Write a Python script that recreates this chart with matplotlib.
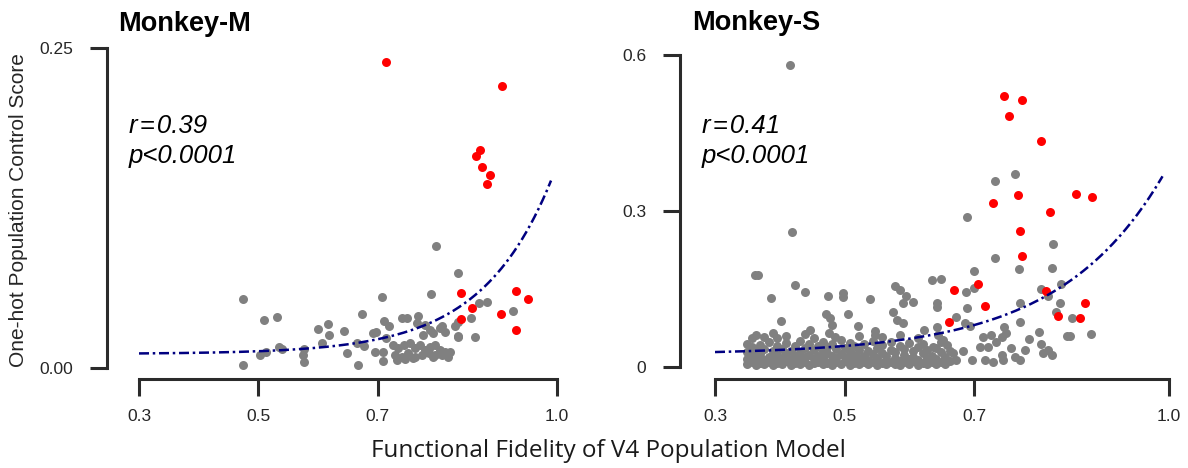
import numpy as np
import matplotlib
matplotlib.use("Agg")
import matplotlib.pyplot as plt

plt.rcParams["font.family"] = ["Liberation Sans", "DejaVu Sans"]

# ---- Monkey-M data (x = fidelity, y = control score) ----
m_gray = np.array([
    (0.797, 0.0956), (0.834, 0.0745), (0.789, 0.0578), (0.707, 0.0557), (0.475, 0.0537),
    (0.510, 0.0375), (0.531, 0.0396), (0.674, 0.0422), (0.870, 0.0505), (0.882, 0.0513),
    (0.926, 0.0448), (0.856, 0.0388), (0.834, 0.0250), (0.862, 0.0242), (0.834, 0.0362),
    (0.829, 0.0328), (0.600, 0.0305), (0.616, 0.0344), (0.619, 0.0260), (0.643, 0.0289),
    (0.740, 0.0388), (0.749, 0.0388), (0.767, 0.0406), (0.711, 0.0367), (0.718, 0.0330),
    (0.692, 0.0271), (0.697, 0.0284), (0.607, 0.0198), (0.535, 0.0167), (0.539, 0.0146),
    (0.502, 0.0104), (0.512, 0.0125), (0.475, 0.0026), (0.576, 0.0146), (0.574, 0.0102),
    (0.576, 0.0047), (0.649, 0.0120), (0.666, 0.0023), (0.665, 0.0193), (0.676, 0.0172),
    (0.696, 0.0128), (0.709, 0.0128), (0.709, 0.0057), (0.714, 0.0232),
    (0.726, 0.0180), (0.734, 0.0154), (0.743, 0.0180), (0.754, 0.0193), (0.762, 0.0154),
    (0.771, 0.0180), (0.779, 0.0141), (0.787, 0.0167), (0.796, 0.0180), (0.804, 0.0141),
    (0.813, 0.0128), (0.821, 0.0128), (0.729, 0.0102), (0.740, 0.0089), (0.751, 0.0115),
    (0.762, 0.0089), (0.774, 0.0102), (0.785, 0.0115), (0.796, 0.0102), (0.807, 0.0102),
    (0.818, 0.0089), (0.732, 0.0063), (0.746, 0.0068), (0.759, 0.0076), (0.782, 0.0128),
    (0.793, 0.0089), (0.779, 0.0336), (0.787, 0.0297), (0.776, 0.0258), (0.793, 0.0271),
    (0.807, 0.0328), (0.813, 0.0284), (0.765, 0.0354), (0.804, 0.0310), (0.835, 0.0245),
])
m_red = np.array([
    (0.714, 0.239), (0.908, 0.220), (0.864, 0.166), (0.871, 0.170), (0.874, 0.157),
    (0.888, 0.151), (0.883, 0.144), (0.839, 0.0589), (0.857, 0.0466), (0.840, 0.0380),
    (0.931, 0.0600), (0.952, 0.0540), (0.906, 0.0420), (0.932, 0.0294),
])
m_fit = (0.011, 3.0e-5, 8.5)   # a + b*exp(c*x)

# ---- Monkey-S data ----
s_gray_sparse = np.array([
    (0.416, 0.581), (0.418, 0.260), (0.762, 0.372), (0.731, 0.358), (0.689, 0.289),
    (0.821, 0.236), (0.731, 0.210), (0.769, 0.189), (0.819, 0.191), (0.699, 0.184),
    (0.361, 0.176), (0.367, 0.176), (0.424, 0.158), (0.438, 0.144), (0.386, 0.132),
    (0.474, 0.136), (0.498, 0.142), (0.497, 0.134), (0.539, 0.130), (0.577, 0.156),
    (0.585, 0.149), (0.594, 0.137), (0.605, 0.125), (0.590, 0.123), (0.635, 0.167),
    (0.648, 0.169), (0.642, 0.123), (0.643, 0.116), (0.687, 0.144), (0.700, 0.151),
    (0.688, 0.113), (0.803, 0.150), (0.813, 0.137), (0.834, 0.159), (0.832, 0.123),
    (0.825, 0.106), (0.770, 0.124), (0.850, 0.095), (0.771, 0.086), (0.880, 0.063),
    (0.842, 0.059), (0.847, 0.059), (0.800, 0.067), (0.784, 0.054), (0.803, 0.044),
    (0.814, 0.033), (0.819, 0.023), (0.671, 0.096), (0.686, 0.085), (0.693, 0.078),
    (0.745, 0.076), (0.749, 0.065), (0.574, 0.106), (0.505, 0.101), (0.471, 0.102),
    (0.477, 0.095), (0.480, 0.081), (0.401, 0.089), (0.521, 0.079), (0.581, 0.090),
    (0.590, 0.085), (0.547, 0.069), (0.547, 0.062), (0.643, 0.076), (0.439, 0.063),
    (0.446, 0.071), (0.476, 0.065), (0.485, 0.058), (0.622, 0.071),
    (0.696, 0.014), (0.716, 0.014), (0.729, 0.010), (0.742, 0.023), (0.757, 0.036),
    (0.762, 0.020), (0.778, 0.033), (0.806, 0.026), (0.713, 0.058), (0.726, 0.062),
    (0.734, 0.049), (0.742, 0.058), (0.721, 0.039), (0.708, 0.039), (0.683, 0.030),
    (0.667, 0.026), (0.657, 0.042), (0.652, 0.052), (0.644, 0.062), (0.636, 0.039),
    (0.634, 0.020), (0.654, 0.014), (0.672, 0.014), (0.744, 0.014), (0.770, 0.014),
])
s_gray_band = np.array([
    (0.350, 0.006), (0.350, 0.015), (0.350, 0.028), (0.350, 0.045),
    (0.357, 0.010), (0.357, 0.022), (0.357, 0.038), (0.357, 0.055),
    (0.363, 0.004), (0.363, 0.018), (0.363, 0.032), (0.363, 0.062),
    (0.370, 0.008), (0.370, 0.025), (0.370, 0.042),
    (0.376, 0.005), (0.376, 0.014), (0.376, 0.035), (0.376, 0.058),
    (0.383, 0.010), (0.383, 0.020), (0.383, 0.048),
    (0.390, 0.004), (0.390, 0.016), (0.390, 0.030), (0.390, 0.066),
    (0.396, 0.008), (0.396, 0.024), (0.396, 0.040), (0.396, 0.055),
    (0.403, 0.006), (0.403, 0.018), (0.403, 0.034),
    (0.410, 0.011), (0.410, 0.027), (0.410, 0.046), (0.410, 0.060),
    (0.417, 0.004), (0.417, 0.015), (0.417, 0.031),
    (0.424, 0.008), (0.424, 0.022), (0.424, 0.040),
    (0.431, 0.005), (0.431, 0.013), (0.431, 0.028), (0.431, 0.050),
    (0.438, 0.009), (0.438, 0.019), (0.438, 0.036),
    (0.445, 0.004), (0.445, 0.024), (0.445, 0.044),
    (0.452, 0.007), (0.452, 0.015), (0.452, 0.032), (0.452, 0.055),
    (0.459, 0.010), (0.459, 0.021), (0.459, 0.040),
    (0.466, 0.005), (0.466, 0.017), (0.466, 0.030), (0.466, 0.048),
    (0.473, 0.008), (0.473, 0.026), (0.473, 0.038),
    (0.480, 0.004), (0.480, 0.013), (0.480, 0.022), (0.480, 0.045),
    (0.487, 0.009), (0.487, 0.018), (0.487, 0.034),
    (0.494, 0.006), (0.494, 0.025), (0.494, 0.052),
    (0.501, 0.011), (0.501, 0.020), (0.501, 0.036),
    (0.508, 0.004), (0.508, 0.015), (0.508, 0.028), (0.508, 0.046),
    (0.515, 0.008), (0.515, 0.023), (0.515, 0.040),
    (0.522, 0.005), (0.522, 0.017), (0.522, 0.032), (0.522, 0.060),
    (0.529, 0.010), (0.529, 0.021), (0.529, 0.044),
    (0.536, 0.006), (0.536, 0.014), (0.536, 0.030),
    (0.543, 0.009), (0.543, 0.025), (0.543, 0.050),
    (0.550, 0.004), (0.550, 0.018), (0.550, 0.036),
    (0.557, 0.008), (0.557, 0.027), (0.557, 0.042), (0.557, 0.057),
    (0.564, 0.005), (0.564, 0.013), (0.564, 0.022),
    (0.571, 0.010), (0.571, 0.032), (0.571, 0.048),
    (0.578, 0.006), (0.578, 0.018), (0.578, 0.028),
    (0.585, 0.004), (0.585, 0.012), (0.585, 0.040), (0.585, 0.062),
    (0.592, 0.009), (0.592, 0.024), (0.592, 0.034),
    (0.599, 0.006), (0.599, 0.016), (0.599, 0.046),
    (0.606, 0.011), (0.606, 0.020), (0.606, 0.030),
    (0.613, 0.004), (0.613, 0.014), (0.613, 0.038), (0.613, 0.056),
    (0.620, 0.008), (0.620, 0.026), (0.620, 0.044),
    (0.627, 0.005), (0.627, 0.018), (0.627, 0.032),
    (0.634, 0.010), (0.634, 0.022),
    (0.641, 0.006), (0.641, 0.015), (0.641, 0.036),
    (0.648, 0.009), (0.648, 0.028), (0.648, 0.048),
    (0.655, 0.005), (0.655, 0.019),
    (0.662, 0.011), (0.662, 0.030),
])
s_red = np.array([
    (0.746, 0.522), (0.773, 0.513), (0.753, 0.483), (0.802, 0.435), (0.767, 0.330),
    (0.729, 0.316), (0.856, 0.332), (0.881, 0.326), (0.816, 0.298), (0.771, 0.262),
    (0.773, 0.214), (0.705, 0.159), (0.669, 0.148), (0.716, 0.118), (0.871, 0.123),
    (0.863, 0.094), (0.829, 0.098), (0.810, 0.147), (0.661, 0.086),
])
s_fit = (0.024, 7.4e-4, 6.2)

xticks = [0.3, 0.5, 0.7, 1.0]
xticklabels = ["0.3", "0.5", "0.7", "1.0"]
m_yticks, m_yticklabels = [0, 0.25], ["0.00", "0.25"]
s_yticks, s_yticklabels = [0, 0.3, 0.6], ["0", "0.3", "0.6"]

spine_col = "#2b2b2b"
gray_col = "#808080"
red_col = "#ff0000"
fit_col = "#000080"

W, H = 1188, 468
fig = plt.figure(figsize=(W / 100, H / 100), dpi=100)
ax1 = fig.add_axes([139 / W, 1 - 368 / H, 418 / W, 320 / H])
ax2 = fig.add_axes([715 / W, 1 - 367 / H, 454 / W, 312 / H])


def draw(ax, gray, red, fit, yticks, yticklabels, left_off, bottom_off):
    ax.scatter(gray[:, 0], gray[:, 1], s=42, color=gray_col, linewidths=0,
               clip_on=False, zorder=2)
    ax.scatter(red[:, 0], red[:, 1], s=42, color=red_col, linewidths=0,
               clip_on=False, zorder=3)
    a, b, c = fit
    xf = np.linspace(0.3, 0.99, 300)
    ax.plot(xf, a + b * np.exp(c * xf), color=fit_col, lw=1.8,
            linestyle=(0, (4, 1.5, 1, 1.5)), zorder=4)

    ax.set_xlim(0.3, 1.0)
    ax.set_ylim(yticks[0], yticks[-1])
    ax.set_xticks(xticks)
    ax.set_xticklabels(xticklabels)
    ax.set_yticks(yticks)
    ax.set_yticklabels(yticklabels)

    for s in ["top", "right"]:
        ax.spines[s].set_visible(False)
    for s in ["left", "bottom"]:
        ax.spines[s].set_color(spine_col)
        ax.spines[s].set_linewidth(2.2)
    ax.spines["left"].set_position(("outward", left_off))
    ax.spines["bottom"].set_position(("outward", bottom_off))
    ax.spines["left"].set_bounds(yticks[0], yticks[-1])
    ax.spines["bottom"].set_bounds(xticks[0], xticks[-1])

    ax.tick_params(axis="both", direction="out", length=12.5, width=2.2,
                   color=spine_col, labelsize=12.5, labelcolor="#262626")
    ax.tick_params(axis="x", pad=9)
    ax.tick_params(axis="y", pad=12)
    ax.patch.set_visible(False)


draw(ax1, m_gray, m_red, m_fit, m_yticks, m_yticklabels, 23, 8)
draw(ax2, np.vstack([s_gray_sparse, s_gray_band]), s_red, s_fit,
     s_yticks, s_yticklabels, 25, 8.6)

# titles
fig.text(118 / W, 1 - 31 / H, "Monkey-M", fontsize=19.5, fontweight="bold",
         ha="left", va="baseline")
fig.text(692 / W, 1 - 30 / H, "Monkey-S", fontsize=19.5, fontweight="bold",
         ha="left", va="baseline")

# stats
for xp, rtxt in [(129, "r\u200a=\u200a0.39"), (702, "r\u200a=\u200a0.41")]:
    fig.text(xp / W, 1 - 133 / H, rtxt, fontsize=18.5, style="italic",
             ha="left", va="baseline")
    fig.text(xp / W, 1 - 163 / H, "p<0.0001", fontsize=18.5, style="italic",
             ha="left", va="baseline")

fig.text(19 / W, 1 - 210 / H, "One-hot Population Control Score", fontsize=15,
         rotation=90, ha="center", va="center", color="#262626")
fig.text(608 / W, 1 - 451 / H, "Functional Fidelity of V4 Population Model",
         fontsize=17.5, family=["Open Sans", "DejaVu Sans"],
         ha="center", va="center", color="#1a1a1a")

fig.savefig("out.png", dpi=100)
